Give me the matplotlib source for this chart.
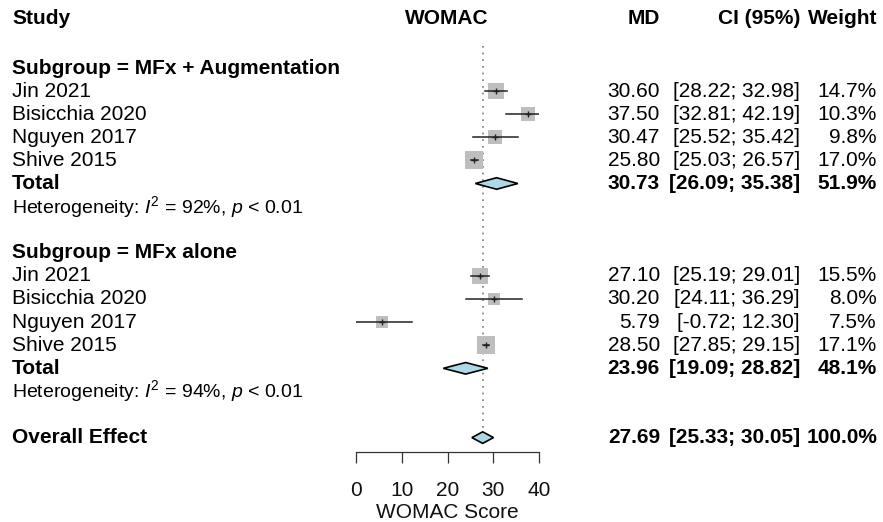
import numpy as np
import matplotlib
matplotlib.use('Agg')
import matplotlib.pyplot as plt
from matplotlib.transforms import blended_transform_factory
from matplotlib.patches import Polygon

plt.rcParams['font.family'] = 'Liberation Sans'
plt.rcParams['mathtext.fontset'] = 'custom'
plt.rcParams['mathtext.rm'] = 'Liberation Sans'
plt.rcParams['mathtext.it'] = 'Liberation Sans:italic'

# data
studies = ['Jin 2021', 'Bisicchia 2020', 'Nguyen 2017', 'Shive 2015']
groups = ['Subgroup = MFx + Augmentation', 'Subgroup = MFx alone']
md_aug = [30.60, 37.50, 30.47, 25.80]
lo_aug = [28.22, 32.81, 25.52, 25.03]
hi_aug = [32.98, 42.19, 35.42, 26.57]
w_aug = [14.7, 10.3, 9.8, 17.0]
md_alone = [27.10, 30.20, 5.79, 28.50]
lo_alone = [25.19, 24.11, -0.72, 27.85]
hi_alone = [29.01, 36.29, 12.30, 29.15]
w_alone = [15.5, 8.0, 7.5, 17.1]
total_md = [30.73, 23.96]
total_lo = [26.09, 19.09]
total_hi = [35.38, 28.82]
total_w = [51.9, 48.1]
het_i2 = [92, 94]
overall = (27.69, 25.33, 30.05, 100.0)
xticks = [0, 10, 20, 30, 40]

W, H = 883, 522
fig = plt.figure(figsize=(W / 100, H / 100), dpi=100)
# row r sits at pixel 68 + 23.1*r
step = 23.1
y_top = -68 / step
y_bot = (H - 68) / step
ax = fig.add_axes([356 / W, 0, 183 / W, 1])
ax.set_xlim(0, 40)
ax.set_ylim(y_bot, y_top)
for s in ['top', 'left', 'right']:
    ax.spines[s].set_visible(False)
ax.set_yticks([])
axis_r = (452 - 68) / step
ax.spines['bottom'].set_position(('data', axis_r))
ax.spines['bottom'].set_linewidth(0.9)
ax.spines['bottom'].set_color('#333333')
ax.set_xticks(xticks)
ax.tick_params(axis='x', length=8, width=0.9, colors='#333333', labelcolor='#111111',
               labelsize=15, pad=13)
ax.set_xlabel('WOMAC Score', fontsize=15, color='#111111', labelpad=0)
ax.xaxis.set_label_coords(0.5, 1 - 512 / H, transform=ax.transAxes)
ax.xaxis.label.set_verticalalignment('center')

tr = blended_transform_factory(fig.transFigure, ax.transData)
fs = 15
x_study, x_md, x_ci, x_w = 12 / W, 660 / W, 800 / W, 877 / W
head_r = (18 - 68) / step
ax.text(x_study, head_r, 'Study', transform=tr, fontsize=fs, weight='bold', va='center')
ax.text(447 / W, head_r, 'WOMAC', transform=tr, fontsize=fs, weight='bold', va='center', ha='center')
ax.text(x_md, head_r, 'MD', transform=tr, fontsize=fs, weight='bold', va='center', ha='right')
ax.text(x_ci, head_r, 'CI (95%)', transform=tr, fontsize=fs, weight='bold', va='center', ha='right')
ax.text(x_w, head_r, 'Weight', transform=tr, fontsize=fs, weight='bold', va='center', ha='right')

ref = overall[0]
ax.plot([ref, ref], [-0.95, 16.3], ls=(0, (1, 3)), color='#777777', lw=1.2)


def diamond(r, m, lo, hi):
    h = 0.25
    ax.add_patch(Polygon([(lo, r), (m, r - h), (hi, r), (m, r + h)], closed=True,
                         facecolor='#ADD8E6', edgecolor='black', lw=1.2, zorder=4))


def stat_text(r, m, lo, hi, w, bold):
    wt = 'bold' if bold else 'normal'
    ax.text(x_md, r, f'{m:.2f}', transform=tr, fontsize=fs, weight=wt, va='center', ha='right')
    ax.text(x_ci, r, f'[{lo:.2f}; {hi:.2f}]', transform=tr, fontsize=fs, weight=wt, va='center', ha='right')
    ax.text(x_w, r, f'{w:.1f}%', transform=tr, fontsize=fs, weight=wt, va='center', ha='right')


sub_data = [(md_aug, lo_aug, hi_aug, w_aug), (md_alone, lo_alone, hi_alone, w_alone)]
for g, (mds, los, his, ws) in enumerate(sub_data):
    r0 = g * 8
    ax.text(x_study, r0, groups[g], transform=tr, fontsize=fs, weight='bold', va='center')
    for i in range(len(studies)):
        r = r0 + 1 + i
        ax.text(x_study, r, studies[i], transform=tr, fontsize=fs, va='center')
        side_pt = 4.3 * np.sqrt(ws[i]) * 0.72
        ax.scatter([mds[i]], [r], marker='s', s=side_pt ** 2, color='#BEBEBE', zorder=2, lw=0)
        ax.plot([los[i], his[i]], [r, r], color='#222222', lw=1.1, zorder=3)
        ax.scatter([mds[i]], [r], marker='+', s=22, color='#222222', lw=1.0, zorder=3)
        stat_text(r, mds[i], los[i], his[i], ws[i], False)
    rt = r0 + 5
    ax.text(x_study, rt, 'Total', transform=tr, fontsize=fs, weight='bold', va='center')
    diamond(rt, total_md[g], total_lo[g], total_hi[g])
    stat_text(rt, total_md[g], total_lo[g], total_hi[g], total_w[g], True)
    ax.text(x_study, r0 + 6, f'Heterogeneity: $I^2$ = {het_i2[g]}%, $p$ < 0.01',
            transform=tr, fontsize=14, va='center')

ax.text(x_study, 16, 'Overall Effect', transform=tr, fontsize=fs, weight='bold', va='center')
diamond(16, overall[0], overall[1], overall[2])
stat_text(16, *overall, True)

fig.savefig('out.png', dpi=100)
